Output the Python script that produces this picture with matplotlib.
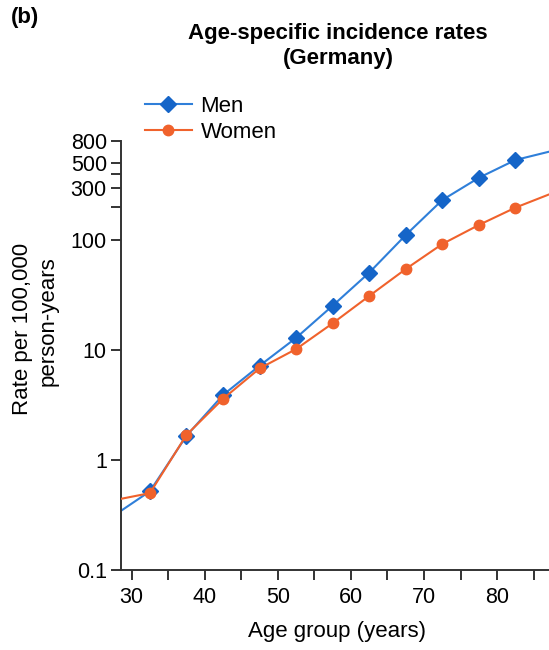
import matplotlib
matplotlib.use("Agg")
import matplotlib.pyplot as plt

plt.rcParams['font.family'] = ['Liberation Sans', 'DejaVu Sans']

# age group midpoints (5-year groups)
ages = [32.5, 37.5, 42.5, 47.5, 52.5, 57.5, 62.5, 67.5, 72.5, 77.5, 82.5]
men = [0.52, 1.66, 3.9, 7.2, 12.9, 25.3, 50.5, 111, 231, 368, 534]
women = [0.50, 1.69, 3.6, 6.8, 10.2, 17.5, 31, 54.5, 92, 137, 197]

# the lines run on past the marked groups at both edges
edge_ages = [27.5, 87.5]
men_edges = [0.31, 645]
women_edges = [0.43, 266]

ytick_vals = [0.1, 1, 10, 100, 200, 300, 400, 500, 800]
ytick_labels = ['0.1', '1', '10', '100', '', '300', '', '500', '800']
xtick_major = [30, 40, 50, 60, 70, 80]
xtick_minor = [35, 45, 55, 65, 75, 85]

blue = '#2f7fd9'
blue_mk = '#1565c8'
orange = '#f0622c'

fig = plt.figure(figsize=(5.49, 6.5), dpi=100)
ax = fig.add_axes([120.7/549, 80/650, 428.3/549, 429.3/650])

men_x = [edge_ages[0]] + ages + [edge_ages[1]]
men_y = [men_edges[0]] + men + [men_edges[1]]
wom_y = [women_edges[0]] + women + [women_edges[1]]

ax.plot(men_x, men_y, color=blue, lw=1.5, zorder=2)
ax.plot(men_x, wom_y, color=orange, lw=1.5, zorder=3)
ax.plot(ages, men, 'D', color=blue_mk, ms=8.5, zorder=2)
ax.plot(ages, women, 'o', color=orange, ms=7.5, zorder=3)

# legend proxies
ax.plot([], [], color=blue, lw=1.5, marker='D', mfc=blue_mk, mec=blue_mk, ms=8.5, label='Men')
ax.plot([], [], color=orange, lw=1.5, marker='o', ms=7.5, label='Women')
ax.legend(loc='upper left', bbox_to_anchor=(145/549, 1 - 96/650), bbox_transform=fig.transFigure,
          frameon=False, fontsize=16, handlelength=2.1, handletextpad=0.4, labelspacing=0.22,
          borderaxespad=0, borderpad=0)

ax.set_yscale('log')
ax.set_xlim(28.5, 87.1)
ax.set_ylim(0.1, 800)
ax.set_yticks(ytick_vals)
ax.set_yticklabels(ytick_labels)
ax.yaxis.set_minor_locator(matplotlib.ticker.NullLocator())
ax.set_xticks(xtick_major)
ax.set_xticks(xtick_minor, minor=True)

for s in ['top', 'right']:
    ax.spines[s].set_visible(False)
for s in ['left', 'bottom']:
    ax.spines[s].set_linewidth(1.4)
    ax.spines[s].set_color('#333333')
ax.tick_params(which='both', direction='out', length=7, width=1.4, color='#333333',
               labelsize=15.5, pad=3)
ax.tick_params(axis='x', pad=5)

fig.text(337/549, 1 - 632/650, 'Age group (years)', ha='center', va='center', fontsize=16)
fig.text(23/549, 1 - 329/650, 'Rate per 100,000', rotation=90, ha='center', va='center', fontsize=16)
fig.text(48/549, 1 - 321/650, 'person-years', rotation=90, ha='center', va='center', fontsize=16)

fig.text(338/549, 1 - 46/650, 'Age-specific incidence rates\n(Germany)', ha='center', va='center',
         fontsize=16, fontweight='bold', linespacing=1.2)
fig.text(11/549, 1 - 18/650, '(b)', ha='left', va='center', fontsize=16, fontweight='bold')

fig.savefig('out.png', dpi=100)
